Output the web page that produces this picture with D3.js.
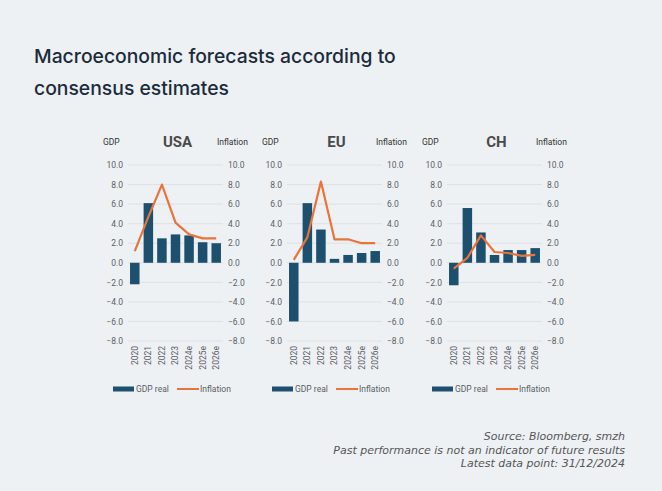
<!DOCTYPE html>
<html><head><meta charset="utf-8">
<script src="https://cdn.jsdelivr.net/npm/d3@7"></script>
<style>html,body{margin:0;padding:0;background:#eef1f4;}svg{display:block;}</style>
</head><body>
<svg id="c" width="662" height="491"></svg>
<script>
const years = ["2020","2021","2022","2023","2024e","2025e","2026e"];
const regions = ["USA","EU","CH"];
const gdpUSA = [-2.2, 6.1, 2.5, 2.9, 2.8, 2.1, 2.0];
const inflUSA = [1.2, 4.7, 8.0, 4.1, 2.9, 2.5, 2.5];
const gdpEU = [-6.0, 6.1, 3.4, 0.4, 0.8, 1.0, 1.2];
const inflEU = [0.3, 2.6, 8.3, 2.4, 2.4, 2.0, 2.0];
const gdpCH = [-2.3, 5.6, 3.1, 0.8, 1.3, 1.3, 1.5];
const inflCH = [-0.6, 0.5, 2.8, 1.1, 1.0, 0.7, 0.8];
const yTicks = [10, 8, 6, 4, 2, 0, -2, -4, -6, -8];
const title = ["Macroeconomic forecasts according to", "consensus estimates"];
const footer = ["Source: Bloomberg, smzh", "Past performance is not an indicator of future results", "Latest data point: 31/12/2024"];

const gdpSeries = [gdpUSA, gdpEU, gdpCH];
const inflSeries = [inflUSA, inflEU, inflCH];

const svg = d3.select("#c");
const navy = "#1d4f6e", orange = "#e8743b", txt = "#5a5f64", grid = "#d9dde0";
const font = "Roboto, 'Liberation Sans', Arial, sans-serif";

// Title
const t = svg.append("g").attr("font-family", "Inter, 'Noto Sans', sans-serif").attr("font-weight", 500).attr("fill", "#1b2b3b");
const t1 = t.append("text").attr("x", 34).attr("y", 63).attr("font-size", 21).text(title[0]);
const tfs = 21 * 362 / t1.node().getComputedTextLength();
t1.attr("font-size", tfs);
t.append("text").attr("x", 34).attr("y", 95).attr("font-size", tfs).text(title[1]);

const y = d3.scaleLinear().domain([-8, 10]).range([341, 165]);
const plotLefts = [128, 287, 447];
const plotW = 95;

regions.forEach((r, k) => {
  const x0 = plotLefts[k];
  const x = d3.scaleBand().domain(years).range([x0, x0 + plotW]).paddingInner(0.3).paddingOuter(0.15);
  const g = svg.append("g").attr("font-family", font);

  g.append("g").selectAll("line").data(yTicks).join("line")
    .attr("x1", x0).attr("x2", x0 + plotW)
    .attr("y1", d => y(d)).attr("y2", d => y(d))
    .attr("stroke", grid).attr("stroke-width", 0.8);

  const la = g.append("g").attr("transform", `translate(${x0 - 5},0)`)
    .call(d3.axisLeft(y).tickValues(yTicks).tickFormat(d3.format(".1f")).tickSize(0).tickPadding(0));
  la.select(".domain").remove();
  la.selectAll("text").attr("font-size", 8.5).attr("fill", txt).attr("font-family", font);

  const ra = g.append("g").attr("transform", `translate(${x0 + plotW + 5},0)`)
    .call(d3.axisRight(y).tickValues(yTicks).tickFormat(d3.format(".1f")).tickSize(0).tickPadding(0));
  ra.select(".domain").remove();
  ra.selectAll("text").attr("font-size", 8.5).attr("fill", txt).attr("font-family", font);

  g.append("g").selectAll("rect").data(gdpSeries[k]).join("rect")
    .attr("x", (d, i) => x(years[i]))
    .attr("width", x.bandwidth())
    .attr("y", d => y(Math.max(0, d)))
    .attr("height", d => Math.abs(y(d) - y(0)))
    .attr("fill", navy);

  const line = d3.line().x((d, i) => x(years[i]) + x.bandwidth() / 2).y(d => y(d));
  g.append("path").datum(inflSeries[k]).attr("d", line)
    .attr("fill", "none").attr("stroke", orange).attr("stroke-width", 2.2).attr("stroke-linejoin", "round");

  const xa = g.append("g").attr("transform", `translate(0,${y(-8) + 5})`)
    .call(d3.axisBottom(x).tickSize(0).tickPadding(0));
  xa.select(".domain").remove();
  xa.selectAll("text").attr("font-size", 8.5).attr("fill", txt).attr("font-family", font)
    .attr("transform", "rotate(-90)").attr("text-anchor", "end").attr("dy", "0.35em").attr("dx", 0).attr("y", 0).attr("x", 0);

  g.append("text").attr("x", x0 - 25).attr("y", 145).attr("font-size", 8.5).attr("fill", "#333").text("GDP");
  g.append("text").attr("x", x0 + plotW / 2 + 2).attr("y", 147).attr("text-anchor", "middle")
    .attr("font-size", 15).attr("font-weight", 700).attr("fill", "#4a4a4a").text(r);
  g.append("text").attr("x", x0 + 89).attr("y", 145).attr("font-size", 8.5).attr("fill", "#333").text("Inflation");

  const ly = 389;
  const lx = x0 - 15;
  g.append("rect").attr("x", lx).attr("y", ly - 2.5).attr("width", 21).attr("height", 5).attr("fill", navy);
  g.append("text").attr("x", lx + 23).attr("y", ly).attr("dy", "0.35em").attr("font-size", 8.5).attr("fill", txt).text("GDP real");
  g.append("line").attr("x1", lx + 64).attr("x2", lx + 86).attr("y1", ly).attr("y2", ly).attr("stroke", orange).attr("stroke-width", 2);
  g.append("text").attr("x", lx + 87).attr("y", ly).attr("dy", "0.35em").attr("font-size", 8.5).attr("fill", txt).text("Inflation");
});

// footer
const f = svg.append("g").attr("font-family", "'DejaVu Sans', 'Noto Sans', sans-serif").attr("font-style", "italic")
  .attr("fill", "#555").attr("font-size", 10).attr("text-anchor", "end");
const fEls = footer.map((s, i) => f.append("text").attr("x", 625).attr("y", 440 + i * 13.5).text(s));
const ffs = 10 * 292 / fEls[1].node().getComputedTextLength();
f.attr("font-size", ffs);
</script>
</body></html>
